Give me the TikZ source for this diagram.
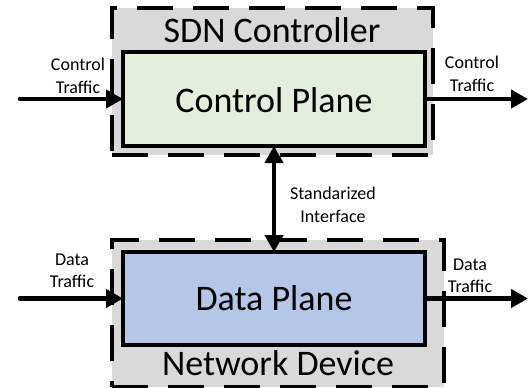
\documentclass[tikz,border=0pt]{standalone}
\usepackage{fontspec}
\setmainfont{Carlito}
\usetikzlibrary{arrows.meta}
\definecolor{shellgray}{HTML}{D9D9D9}
\definecolor{ctrlgreen}{HTML}{E2EFDA}
\definecolor{datablue}{HTML}{B4C7E7}
\begin{document}
\begin{tikzpicture}[x=1pt,y=-1pt,
  shell/.style={draw=black, fill=shellgray, line width=4pt,
    dash pattern=on 36pt off 20pt, inner sep=0pt, outer sep=0pt,
    anchor=north west},
  plane/.style={draw=black, line width=4pt, inner sep=0pt, outer sep=0pt,
    anchor=north west},
  title/.style={font=\fontsize{36}{40}\selectfont, inner sep=0pt, anchor=base},
  lbl/.style={font=\fontsize{18}{22.5}\selectfont, align=center, inner sep=0pt},
  flow/.style={line width=4.5pt, line cap=round,
    -{Triangle[length=17pt,width=18pt]}},
  biflow/.style={line width=4.5pt,
    {Triangle[length=17pt,width=18pt]}-{Triangle[length=17pt,width=18pt]}}]
  \useasboundingbox (0,0) rectangle (530,388);

  % device shells
  \node[shell, minimum width=321pt, minimum height=147pt] (ctrlshell) at (112,8) {};
  \node[shell, minimum width=332pt, minimum height=147pt] (datashell) at (112,240) {};

  % planes
  \node[plane, fill=ctrlgreen, minimum width=302pt, minimum height=94pt] (ctrl) at (123,52) {};
  \node[plane, fill=datablue, minimum width=302pt, minimum height=93pt] (data) at (123,252) {};

  % titles
  \node[title] (ctrltitle) at (272,42) {SDN Controller};
  \node[title] (ctrltext) at (274,112) {Control Plane};
  \node[title] (datatext) at (274,310) {Data Plane};
  \node[title] (datatitle) at (278,375) {Network Device};

  % traffic connectors
  \coordinate (ctrlin) at (20,99);
  \coordinate (ctrlout) at (528,99);
  \coordinate (datain) at (20,298.5);
  \coordinate (dataout) at (528,298.5);
  \draw[flow] (ctrlin) -- (ctrl.west);
  \draw[flow] (ctrl.east) -- (ctrlout);
  \draw[flow] (datain) -- (data.west);
  \draw[flow] (data.east) -- (dataout);
  \draw[biflow] (ctrl.south) -- (data.north);

  % connector labels
  \node[lbl] (ctrlinlbl) at (78,76) {Control\\Traffic};
  \node[lbl] (ctrloutlbl) at (472,74) {Control\\Traffic};
  \node[lbl] (ifacelbl) at (333,205) {Standarized\\Interface};
  \node[lbl] (datainlbl) at (72,271) {Data\\Traffic};
  \node[lbl] (dataoutlbl) at (470,276) {Data\\Traffic};
\end{tikzpicture}
\end{document}
